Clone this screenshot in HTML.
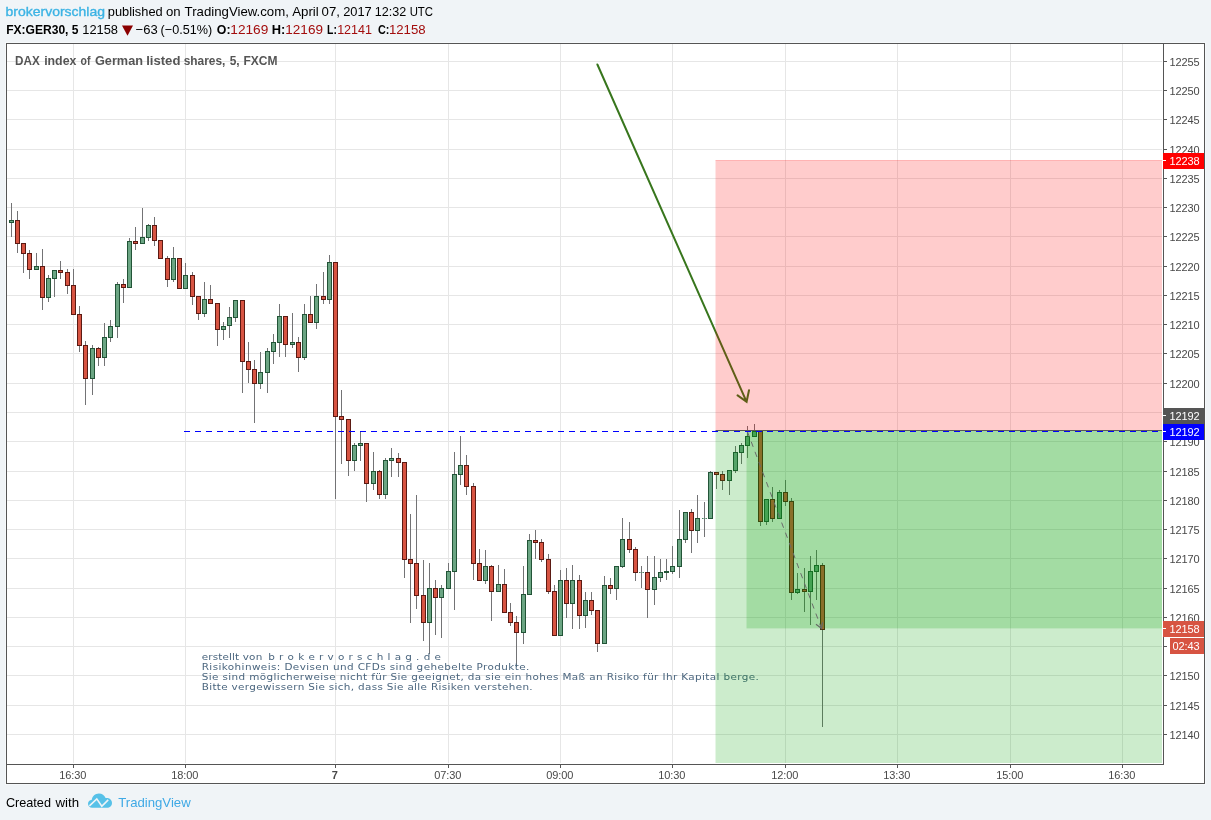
<!DOCTYPE html>
<html lang="de"><head><meta charset="utf-8"><title>DAX index of German listed shares - TradingView</title>
<style>html,body{margin:0;padding:0;background:#F0F4F7;}body{width:1211px;height:820px;overflow:hidden;position:relative;font-family:"Liberation Sans",sans-serif;}</style>
</head><body>
<svg width="1211" height="820" viewBox="0 0 1211 820" style="position:absolute;left:0;top:0">
<rect x="0" y="0" width="1211" height="820" fill="#F0F4F7"/>
<g shape-rendering="crispEdges">
<rect x="5" y="42" width="1201" height="743" fill="#F6F9FB"/>
<rect x="6" y="43" width="1199" height="741" fill="#555555"/>
<rect x="7" y="44" width="1197" height="739" fill="#ffffff"/>
<rect x="7" y="734" width="1155" height="1" fill="#E6E6E6"/>
<rect x="7" y="705" width="1155" height="1" fill="#E6E6E6"/>
<rect x="7" y="675" width="1155" height="1" fill="#E6E6E6"/>
<rect x="7" y="646" width="1155" height="1" fill="#E6E6E6"/>
<rect x="7" y="617" width="1155" height="1" fill="#E6E6E6"/>
<rect x="7" y="588" width="1155" height="1" fill="#E6E6E6"/>
<rect x="7" y="558" width="1155" height="1" fill="#E6E6E6"/>
<rect x="7" y="529" width="1155" height="1" fill="#E6E6E6"/>
<rect x="7" y="500" width="1155" height="1" fill="#E6E6E6"/>
<rect x="7" y="471" width="1155" height="1" fill="#E6E6E6"/>
<rect x="7" y="441" width="1155" height="1" fill="#E6E6E6"/>
<rect x="7" y="412" width="1155" height="1" fill="#E6E6E6"/>
<rect x="7" y="383" width="1155" height="1" fill="#E6E6E6"/>
<rect x="7" y="353" width="1155" height="1" fill="#E6E6E6"/>
<rect x="7" y="324" width="1155" height="1" fill="#E6E6E6"/>
<rect x="7" y="295" width="1155" height="1" fill="#E6E6E6"/>
<rect x="7" y="266" width="1155" height="1" fill="#E6E6E6"/>
<rect x="7" y="236" width="1155" height="1" fill="#E6E6E6"/>
<rect x="7" y="207" width="1155" height="1" fill="#E6E6E6"/>
<rect x="7" y="178" width="1155" height="1" fill="#E6E6E6"/>
<rect x="7" y="149" width="1155" height="1" fill="#E6E6E6"/>
<rect x="7" y="119" width="1155" height="1" fill="#E6E6E6"/>
<rect x="7" y="90" width="1155" height="1" fill="#E6E6E6"/>
<rect x="7" y="61" width="1155" height="1" fill="#E6E6E6"/>
<rect x="73" y="44" width="1" height="719" fill="#E6E6E6"/>
<rect x="185" y="44" width="1" height="719" fill="#E6E6E6"/>
<rect x="335" y="44" width="1" height="719" fill="#E6E6E6"/>
<rect x="448" y="44" width="1" height="719" fill="#E6E6E6"/>
<rect x="560" y="44" width="1" height="719" fill="#E6E6E6"/>
<rect x="672" y="44" width="1" height="719" fill="#E6E6E6"/>
<rect x="785" y="44" width="1" height="719" fill="#E6E6E6"/>
<rect x="897" y="44" width="1" height="719" fill="#E6E6E6"/>
<rect x="1010" y="44" width="1" height="719" fill="#E6E6E6"/>
<rect x="1122" y="44" width="1" height="719" fill="#E6E6E6"/>
</g>
<text y="65" font-family="Liberation Sans, sans-serif" font-size="13" font-weight="bold" fill="#555555"><tspan x="15.11" textLength="24.69" lengthAdjust="spacingAndGlyphs">DAX</tspan> <tspan x="44.14" textLength="32.29" lengthAdjust="spacingAndGlyphs">index</tspan> <tspan x="80.50" textLength="9.89" lengthAdjust="spacingAndGlyphs">of</tspan> <tspan x="95.00" textLength="47.98" lengthAdjust="spacingAndGlyphs">German</tspan> <tspan x="146.18" textLength="34.27" lengthAdjust="spacingAndGlyphs">listed</tspan> <tspan x="183.74" textLength="41.64" lengthAdjust="spacingAndGlyphs">shares,</tspan> <tspan x="229.68" textLength="9.92" lengthAdjust="spacingAndGlyphs">5,</tspan> <tspan x="243.40" textLength="34.04" lengthAdjust="spacingAndGlyphs">FXCM</tspan></text>
<g shape-rendering="crispEdges">
<rect x="11" y="203" width="1" height="34" fill="#737375"/>
<rect x="9" y="220" width="5" height="3" fill="#225437"/>
<rect x="10" y="221" width="3" height="1" fill="#6BA583"/>
<rect x="17" y="211" width="1" height="42" fill="#737375"/>
<rect x="15" y="220" width="5" height="24" fill="#5B1A13"/>
<rect x="16" y="221" width="3" height="22" fill="#D75442"/>
<rect x="23" y="243" width="1" height="30" fill="#737375"/>
<rect x="21" y="243" width="5" height="11" fill="#5B1A13"/>
<rect x="22" y="244" width="3" height="9" fill="#D75442"/>
<rect x="29" y="250" width="1" height="29" fill="#737375"/>
<rect x="27" y="253" width="5" height="17" fill="#5B1A13"/>
<rect x="28" y="254" width="3" height="15" fill="#D75442"/>
<rect x="36" y="253" width="1" height="17" fill="#737375"/>
<rect x="34" y="266" width="5" height="4" fill="#225437"/>
<rect x="35" y="267" width="3" height="2" fill="#6BA583"/>
<rect x="42" y="249" width="1" height="61" fill="#737375"/>
<rect x="40" y="266" width="5" height="32" fill="#5B1A13"/>
<rect x="41" y="267" width="3" height="30" fill="#D75442"/>
<rect x="48" y="275" width="1" height="27" fill="#737375"/>
<rect x="46" y="278" width="5" height="20" fill="#225437"/>
<rect x="47" y="279" width="3" height="18" fill="#6BA583"/>
<rect x="54" y="270" width="1" height="27" fill="#737375"/>
<rect x="52" y="270" width="5" height="9" fill="#225437"/>
<rect x="53" y="271" width="3" height="7" fill="#6BA583"/>
<rect x="60" y="261" width="1" height="18" fill="#737375"/>
<rect x="58" y="270" width="5" height="3" fill="#5B1A13"/>
<rect x="59" y="271" width="3" height="1" fill="#D75442"/>
<rect x="67" y="269" width="1" height="25" fill="#737375"/>
<rect x="65" y="272" width="5" height="14" fill="#5B1A13"/>
<rect x="66" y="273" width="3" height="12" fill="#D75442"/>
<rect x="73" y="269" width="1" height="46" fill="#737375"/>
<rect x="71" y="285" width="5" height="30" fill="#5B1A13"/>
<rect x="72" y="286" width="3" height="28" fill="#D75442"/>
<rect x="79" y="306" width="1" height="46" fill="#737375"/>
<rect x="77" y="314" width="5" height="32" fill="#5B1A13"/>
<rect x="78" y="315" width="3" height="30" fill="#D75442"/>
<rect x="85" y="341" width="1" height="64" fill="#737375"/>
<rect x="83" y="345" width="5" height="34" fill="#5B1A13"/>
<rect x="84" y="346" width="3" height="32" fill="#D75442"/>
<rect x="92" y="345" width="1" height="50" fill="#737375"/>
<rect x="90" y="348" width="5" height="31" fill="#225437"/>
<rect x="91" y="349" width="3" height="29" fill="#6BA583"/>
<rect x="98" y="347" width="1" height="19" fill="#737375"/>
<rect x="96" y="348" width="5" height="10" fill="#5B1A13"/>
<rect x="97" y="349" width="3" height="8" fill="#D75442"/>
<rect x="104" y="323" width="1" height="43" fill="#737375"/>
<rect x="102" y="337" width="5" height="21" fill="#225437"/>
<rect x="103" y="338" width="3" height="19" fill="#6BA583"/>
<rect x="110" y="320" width="1" height="22" fill="#737375"/>
<rect x="108" y="326" width="5" height="12" fill="#225437"/>
<rect x="109" y="327" width="3" height="10" fill="#6BA583"/>
<rect x="117" y="282" width="1" height="56" fill="#737375"/>
<rect x="115" y="284" width="5" height="43" fill="#225437"/>
<rect x="116" y="285" width="3" height="41" fill="#6BA583"/>
<rect x="123" y="279" width="1" height="24" fill="#737375"/>
<rect x="121" y="284" width="5" height="4" fill="#5B1A13"/>
<rect x="122" y="285" width="3" height="2" fill="#D75442"/>
<rect x="129" y="238" width="1" height="50" fill="#737375"/>
<rect x="127" y="241" width="5" height="47" fill="#225437"/>
<rect x="128" y="242" width="3" height="45" fill="#6BA583"/>
<rect x="135" y="227" width="1" height="23" fill="#737375"/>
<rect x="133" y="241" width="5" height="3" fill="#5B1A13"/>
<rect x="134" y="242" width="3" height="1" fill="#D75442"/>
<rect x="142" y="208" width="1" height="36" fill="#737375"/>
<rect x="140" y="237" width="5" height="7" fill="#225437"/>
<rect x="141" y="238" width="3" height="5" fill="#6BA583"/>
<rect x="148" y="224" width="1" height="17" fill="#737375"/>
<rect x="146" y="225" width="5" height="13" fill="#225437"/>
<rect x="147" y="226" width="3" height="11" fill="#6BA583"/>
<rect x="154" y="217" width="1" height="29" fill="#737375"/>
<rect x="152" y="225" width="5" height="16" fill="#5B1A13"/>
<rect x="153" y="226" width="3" height="14" fill="#D75442"/>
<rect x="160" y="240" width="1" height="19" fill="#737375"/>
<rect x="158" y="240" width="5" height="19" fill="#5B1A13"/>
<rect x="159" y="241" width="3" height="17" fill="#D75442"/>
<rect x="167" y="256" width="1" height="31" fill="#737375"/>
<rect x="165" y="258" width="5" height="22" fill="#5B1A13"/>
<rect x="166" y="259" width="3" height="20" fill="#D75442"/>
<rect x="173" y="247" width="1" height="35" fill="#737375"/>
<rect x="171" y="258" width="5" height="22" fill="#225437"/>
<rect x="172" y="259" width="3" height="20" fill="#6BA583"/>
<rect x="179" y="258" width="1" height="31" fill="#737375"/>
<rect x="177" y="258" width="5" height="31" fill="#5B1A13"/>
<rect x="178" y="259" width="3" height="29" fill="#D75442"/>
<rect x="185" y="263" width="1" height="26" fill="#737375"/>
<rect x="183" y="275" width="5" height="14" fill="#225437"/>
<rect x="184" y="276" width="3" height="12" fill="#6BA583"/>
<rect x="192" y="272" width="1" height="33" fill="#737375"/>
<rect x="190" y="275" width="5" height="22" fill="#5B1A13"/>
<rect x="191" y="276" width="3" height="20" fill="#D75442"/>
<rect x="198" y="296" width="1" height="24" fill="#737375"/>
<rect x="196" y="296" width="5" height="18" fill="#5B1A13"/>
<rect x="197" y="297" width="3" height="16" fill="#D75442"/>
<rect x="204" y="282" width="1" height="35" fill="#737375"/>
<rect x="202" y="299" width="5" height="15" fill="#225437"/>
<rect x="203" y="300" width="3" height="13" fill="#6BA583"/>
<rect x="210" y="285" width="1" height="19" fill="#737375"/>
<rect x="208" y="299" width="5" height="5" fill="#5B1A13"/>
<rect x="209" y="300" width="3" height="3" fill="#D75442"/>
<rect x="217" y="303" width="1" height="43" fill="#737375"/>
<rect x="215" y="303" width="5" height="27" fill="#5B1A13"/>
<rect x="216" y="304" width="3" height="25" fill="#D75442"/>
<rect x="223" y="322" width="1" height="18" fill="#737375"/>
<rect x="221" y="326" width="5" height="4" fill="#225437"/>
<rect x="222" y="327" width="3" height="2" fill="#6BA583"/>
<rect x="229" y="307" width="1" height="31" fill="#737375"/>
<rect x="227" y="317" width="5" height="9" fill="#225437"/>
<rect x="228" y="318" width="3" height="7" fill="#6BA583"/>
<rect x="235" y="300" width="1" height="22" fill="#737375"/>
<rect x="233" y="300" width="5" height="18" fill="#225437"/>
<rect x="234" y="301" width="3" height="16" fill="#6BA583"/>
<rect x="242" y="300" width="1" height="93" fill="#737375"/>
<rect x="240" y="300" width="5" height="62" fill="#5B1A13"/>
<rect x="241" y="301" width="3" height="60" fill="#D75442"/>
<rect x="248" y="342" width="1" height="41" fill="#737375"/>
<rect x="246" y="361" width="5" height="9" fill="#5B1A13"/>
<rect x="247" y="362" width="3" height="7" fill="#D75442"/>
<rect x="254" y="360" width="1" height="63" fill="#737375"/>
<rect x="252" y="369" width="5" height="15" fill="#5B1A13"/>
<rect x="253" y="370" width="3" height="13" fill="#D75442"/>
<rect x="260" y="352" width="1" height="37" fill="#737375"/>
<rect x="258" y="372" width="5" height="12" fill="#225437"/>
<rect x="259" y="373" width="3" height="10" fill="#6BA583"/>
<rect x="267" y="348" width="1" height="45" fill="#737375"/>
<rect x="265" y="351" width="5" height="22" fill="#225437"/>
<rect x="266" y="352" width="3" height="20" fill="#6BA583"/>
<rect x="273" y="334" width="1" height="30" fill="#737375"/>
<rect x="271" y="342" width="5" height="10" fill="#225437"/>
<rect x="272" y="343" width="3" height="8" fill="#6BA583"/>
<rect x="279" y="304" width="1" height="53" fill="#737375"/>
<rect x="277" y="316" width="5" height="27" fill="#225437"/>
<rect x="278" y="317" width="3" height="25" fill="#6BA583"/>
<rect x="285" y="316" width="1" height="41" fill="#737375"/>
<rect x="283" y="316" width="5" height="29" fill="#5B1A13"/>
<rect x="284" y="317" width="3" height="27" fill="#D75442"/>
<rect x="292" y="313" width="1" height="35" fill="#737375"/>
<rect x="290" y="342" width="5" height="3" fill="#225437"/>
<rect x="291" y="343" width="3" height="1" fill="#6BA583"/>
<rect x="298" y="337" width="1" height="35" fill="#737375"/>
<rect x="296" y="342" width="5" height="16" fill="#5B1A13"/>
<rect x="297" y="343" width="3" height="14" fill="#D75442"/>
<rect x="304" y="304" width="1" height="56" fill="#737375"/>
<rect x="302" y="314" width="5" height="44" fill="#225437"/>
<rect x="303" y="315" width="3" height="42" fill="#6BA583"/>
<rect x="310" y="296" width="1" height="27" fill="#737375"/>
<rect x="308" y="314" width="5" height="9" fill="#5B1A13"/>
<rect x="309" y="315" width="3" height="7" fill="#D75442"/>
<rect x="316" y="284" width="1" height="45" fill="#737375"/>
<rect x="314" y="296" width="5" height="27" fill="#225437"/>
<rect x="315" y="297" width="3" height="25" fill="#6BA583"/>
<rect x="323" y="272" width="1" height="32" fill="#737375"/>
<rect x="321" y="296" width="5" height="4" fill="#5B1A13"/>
<rect x="322" y="297" width="3" height="2" fill="#D75442"/>
<rect x="329" y="255" width="1" height="49" fill="#737375"/>
<rect x="327" y="262" width="5" height="38" fill="#225437"/>
<rect x="328" y="263" width="3" height="36" fill="#6BA583"/>
<rect x="335" y="262" width="1" height="237" fill="#737375"/>
<rect x="333" y="262" width="5" height="155" fill="#5B1A13"/>
<rect x="334" y="263" width="3" height="153" fill="#D75442"/>
<rect x="341" y="390" width="1" height="74" fill="#737375"/>
<rect x="339" y="416" width="5" height="4" fill="#5B1A13"/>
<rect x="340" y="417" width="3" height="2" fill="#D75442"/>
<rect x="348" y="419" width="1" height="57" fill="#737375"/>
<rect x="346" y="419" width="5" height="42" fill="#5B1A13"/>
<rect x="347" y="420" width="3" height="40" fill="#D75442"/>
<rect x="354" y="443" width="1" height="28" fill="#737375"/>
<rect x="352" y="445" width="5" height="16" fill="#225437"/>
<rect x="353" y="446" width="3" height="14" fill="#6BA583"/>
<rect x="360" y="432" width="1" height="29" fill="#737375"/>
<rect x="358" y="443" width="5" height="3" fill="#225437"/>
<rect x="359" y="444" width="3" height="1" fill="#6BA583"/>
<rect x="366" y="443" width="1" height="59" fill="#737375"/>
<rect x="364" y="443" width="5" height="41" fill="#5B1A13"/>
<rect x="365" y="444" width="3" height="39" fill="#D75442"/>
<rect x="373" y="452" width="1" height="38" fill="#737375"/>
<rect x="371" y="471" width="5" height="13" fill="#225437"/>
<rect x="372" y="472" width="3" height="11" fill="#6BA583"/>
<rect x="379" y="470" width="1" height="29" fill="#737375"/>
<rect x="377" y="471" width="5" height="24" fill="#5B1A13"/>
<rect x="378" y="472" width="3" height="22" fill="#D75442"/>
<rect x="385" y="458" width="1" height="41" fill="#737375"/>
<rect x="383" y="460" width="5" height="35" fill="#225437"/>
<rect x="384" y="461" width="3" height="33" fill="#6BA583"/>
<rect x="391" y="448" width="1" height="29" fill="#737375"/>
<rect x="389" y="458" width="5" height="3" fill="#225437"/>
<rect x="390" y="459" width="3" height="1" fill="#6BA583"/>
<rect x="398" y="453" width="1" height="24" fill="#737375"/>
<rect x="396" y="458" width="5" height="5" fill="#5B1A13"/>
<rect x="397" y="459" width="3" height="3" fill="#D75442"/>
<rect x="404" y="462" width="1" height="116" fill="#737375"/>
<rect x="402" y="462" width="5" height="98" fill="#5B1A13"/>
<rect x="403" y="463" width="3" height="96" fill="#D75442"/>
<rect x="410" y="514" width="1" height="109" fill="#737375"/>
<rect x="408" y="559" width="5" height="5" fill="#5B1A13"/>
<rect x="409" y="560" width="3" height="3" fill="#D75442"/>
<rect x="416" y="495" width="1" height="114" fill="#737375"/>
<rect x="414" y="563" width="5" height="33" fill="#5B1A13"/>
<rect x="415" y="564" width="3" height="31" fill="#D75442"/>
<rect x="423" y="560" width="1" height="81" fill="#737375"/>
<rect x="421" y="595" width="5" height="28" fill="#5B1A13"/>
<rect x="422" y="596" width="3" height="26" fill="#D75442"/>
<rect x="429" y="563" width="1" height="91" fill="#737375"/>
<rect x="427" y="588" width="5" height="35" fill="#225437"/>
<rect x="428" y="589" width="3" height="33" fill="#6BA583"/>
<rect x="435" y="580" width="1" height="55" fill="#737375"/>
<rect x="433" y="588" width="5" height="10" fill="#5B1A13"/>
<rect x="434" y="589" width="3" height="8" fill="#D75442"/>
<rect x="441" y="585" width="1" height="53" fill="#737375"/>
<rect x="439" y="588" width="5" height="10" fill="#225437"/>
<rect x="440" y="589" width="3" height="8" fill="#6BA583"/>
<rect x="448" y="563" width="1" height="26" fill="#737375"/>
<rect x="446" y="571" width="5" height="18" fill="#225437"/>
<rect x="447" y="572" width="3" height="16" fill="#6BA583"/>
<rect x="454" y="452" width="1" height="158" fill="#737375"/>
<rect x="452" y="474" width="5" height="98" fill="#225437"/>
<rect x="453" y="475" width="3" height="96" fill="#6BA583"/>
<rect x="460" y="436" width="1" height="49" fill="#737375"/>
<rect x="458" y="465" width="5" height="10" fill="#225437"/>
<rect x="459" y="466" width="3" height="8" fill="#6BA583"/>
<rect x="466" y="455" width="1" height="40" fill="#737375"/>
<rect x="464" y="465" width="5" height="22" fill="#5B1A13"/>
<rect x="465" y="466" width="3" height="20" fill="#D75442"/>
<rect x="473" y="483" width="1" height="97" fill="#737375"/>
<rect x="471" y="486" width="5" height="78" fill="#5B1A13"/>
<rect x="472" y="487" width="3" height="76" fill="#D75442"/>
<rect x="479" y="549" width="1" height="32" fill="#737375"/>
<rect x="477" y="563" width="5" height="18" fill="#5B1A13"/>
<rect x="478" y="564" width="3" height="16" fill="#D75442"/>
<rect x="485" y="550" width="1" height="34" fill="#737375"/>
<rect x="483" y="566" width="5" height="15" fill="#225437"/>
<rect x="484" y="567" width="3" height="13" fill="#6BA583"/>
<rect x="491" y="565" width="1" height="56" fill="#737375"/>
<rect x="489" y="566" width="5" height="26" fill="#5B1A13"/>
<rect x="490" y="567" width="3" height="24" fill="#D75442"/>
<rect x="498" y="565" width="1" height="27" fill="#737375"/>
<rect x="496" y="584" width="5" height="8" fill="#225437"/>
<rect x="497" y="585" width="3" height="6" fill="#6BA583"/>
<rect x="504" y="569" width="1" height="44" fill="#737375"/>
<rect x="502" y="584" width="5" height="29" fill="#5B1A13"/>
<rect x="503" y="585" width="3" height="27" fill="#D75442"/>
<rect x="510" y="603" width="1" height="23" fill="#737375"/>
<rect x="508" y="612" width="5" height="11" fill="#5B1A13"/>
<rect x="509" y="613" width="3" height="9" fill="#D75442"/>
<rect x="516" y="616" width="1" height="51" fill="#737375"/>
<rect x="514" y="622" width="5" height="11" fill="#5B1A13"/>
<rect x="515" y="623" width="3" height="9" fill="#D75442"/>
<rect x="523" y="566" width="1" height="78" fill="#737375"/>
<rect x="521" y="594" width="5" height="39" fill="#225437"/>
<rect x="522" y="595" width="3" height="37" fill="#6BA583"/>
<rect x="529" y="534" width="1" height="61" fill="#737375"/>
<rect x="527" y="540" width="5" height="55" fill="#225437"/>
<rect x="528" y="541" width="3" height="53" fill="#6BA583"/>
<rect x="535" y="530" width="1" height="29" fill="#737375"/>
<rect x="533" y="540" width="5" height="3" fill="#5B1A13"/>
<rect x="534" y="541" width="3" height="1" fill="#D75442"/>
<rect x="541" y="539" width="1" height="23" fill="#737375"/>
<rect x="539" y="542" width="5" height="18" fill="#5B1A13"/>
<rect x="540" y="543" width="3" height="16" fill="#D75442"/>
<rect x="548" y="554" width="1" height="40" fill="#737375"/>
<rect x="546" y="559" width="5" height="33" fill="#5B1A13"/>
<rect x="547" y="560" width="3" height="31" fill="#D75442"/>
<rect x="554" y="585" width="1" height="51" fill="#737375"/>
<rect x="552" y="591" width="5" height="45" fill="#5B1A13"/>
<rect x="553" y="592" width="3" height="43" fill="#D75442"/>
<rect x="560" y="570" width="1" height="66" fill="#737375"/>
<rect x="558" y="580" width="5" height="56" fill="#225437"/>
<rect x="559" y="581" width="3" height="54" fill="#6BA583"/>
<rect x="566" y="568" width="1" height="50" fill="#737375"/>
<rect x="564" y="580" width="5" height="24" fill="#5B1A13"/>
<rect x="565" y="581" width="3" height="22" fill="#D75442"/>
<rect x="572" y="565" width="1" height="64" fill="#737375"/>
<rect x="570" y="580" width="5" height="24" fill="#225437"/>
<rect x="571" y="581" width="3" height="22" fill="#6BA583"/>
<rect x="579" y="575" width="1" height="54" fill="#737375"/>
<rect x="577" y="580" width="5" height="36" fill="#5B1A13"/>
<rect x="578" y="581" width="3" height="34" fill="#D75442"/>
<rect x="585" y="592" width="1" height="36" fill="#737375"/>
<rect x="583" y="600" width="5" height="16" fill="#225437"/>
<rect x="584" y="601" width="3" height="14" fill="#6BA583"/>
<rect x="591" y="592" width="1" height="23" fill="#737375"/>
<rect x="589" y="600" width="5" height="11" fill="#5B1A13"/>
<rect x="590" y="601" width="3" height="9" fill="#D75442"/>
<rect x="597" y="610" width="1" height="42" fill="#737375"/>
<rect x="595" y="610" width="5" height="34" fill="#5B1A13"/>
<rect x="596" y="611" width="3" height="32" fill="#D75442"/>
<rect x="604" y="576" width="1" height="68" fill="#737375"/>
<rect x="602" y="585" width="5" height="59" fill="#225437"/>
<rect x="603" y="586" width="3" height="57" fill="#6BA583"/>
<rect x="610" y="578" width="1" height="16" fill="#737375"/>
<rect x="608" y="585" width="5" height="4" fill="#5B1A13"/>
<rect x="609" y="586" width="3" height="2" fill="#D75442"/>
<rect x="616" y="566" width="1" height="34" fill="#737375"/>
<rect x="614" y="566" width="5" height="23" fill="#225437"/>
<rect x="615" y="567" width="3" height="21" fill="#6BA583"/>
<rect x="622" y="518" width="1" height="50" fill="#737375"/>
<rect x="620" y="539" width="5" height="28" fill="#225437"/>
<rect x="621" y="540" width="3" height="26" fill="#6BA583"/>
<rect x="629" y="522" width="1" height="31" fill="#737375"/>
<rect x="627" y="539" width="5" height="11" fill="#5B1A13"/>
<rect x="628" y="540" width="3" height="9" fill="#D75442"/>
<rect x="635" y="547" width="1" height="34" fill="#737375"/>
<rect x="633" y="549" width="5" height="24" fill="#5B1A13"/>
<rect x="634" y="550" width="3" height="22" fill="#D75442"/>
<rect x="639" y="572" width="5" height="1" fill="#4F8266"/>
<rect x="640" y="572" width="3" height="1" fill="#8FBFA4"/>
<rect x="641" y="566" width="1" height="22" fill="#737375"/>
<rect x="647" y="556" width="1" height="62" fill="#737375"/>
<rect x="645" y="572" width="5" height="18" fill="#5B1A13"/>
<rect x="646" y="573" width="3" height="16" fill="#D75442"/>
<rect x="654" y="556" width="1" height="49" fill="#737375"/>
<rect x="652" y="577" width="5" height="13" fill="#225437"/>
<rect x="653" y="578" width="3" height="11" fill="#6BA583"/>
<rect x="660" y="559" width="1" height="23" fill="#737375"/>
<rect x="658" y="572" width="5" height="6" fill="#225437"/>
<rect x="659" y="573" width="3" height="4" fill="#6BA583"/>
<rect x="666" y="559" width="1" height="21" fill="#737375"/>
<rect x="664" y="571" width="5" height="2" fill="#225437"/>
<rect x="672" y="546" width="1" height="28" fill="#737375"/>
<rect x="670" y="566" width="5" height="6" fill="#225437"/>
<rect x="671" y="567" width="3" height="4" fill="#6BA583"/>
<rect x="679" y="510" width="1" height="68" fill="#737375"/>
<rect x="677" y="539" width="5" height="28" fill="#225437"/>
<rect x="678" y="540" width="3" height="26" fill="#6BA583"/>
<rect x="685" y="512" width="1" height="31" fill="#737375"/>
<rect x="683" y="512" width="5" height="28" fill="#225437"/>
<rect x="684" y="513" width="3" height="26" fill="#6BA583"/>
<rect x="691" y="509" width="1" height="44" fill="#737375"/>
<rect x="689" y="512" width="5" height="19" fill="#5B1A13"/>
<rect x="690" y="513" width="3" height="17" fill="#D75442"/>
<rect x="697" y="495" width="1" height="48" fill="#737375"/>
<rect x="695" y="518" width="5" height="13" fill="#225437"/>
<rect x="696" y="519" width="3" height="11" fill="#6BA583"/>
<rect x="702" y="518" width="5" height="1" fill="#4F8266"/>
<rect x="703" y="518" width="3" height="1" fill="#8FBFA4"/>
<rect x="704" y="502" width="1" height="35" fill="#737375"/>
<rect x="710" y="471" width="1" height="48" fill="#737375"/>
<rect x="708" y="472" width="5" height="47" fill="#225437"/>
<rect x="709" y="473" width="3" height="45" fill="#6BA583"/>
<rect x="716" y="472" width="1" height="17" fill="#737375"/>
<rect x="714" y="472" width="5" height="3" fill="#5B1A13"/>
<rect x="715" y="473" width="3" height="1" fill="#D75442"/>
<rect x="722" y="471" width="1" height="19" fill="#737375"/>
<rect x="720" y="474" width="5" height="7" fill="#5B1A13"/>
<rect x="721" y="475" width="3" height="5" fill="#D75442"/>
<rect x="729" y="470" width="1" height="25" fill="#737375"/>
<rect x="727" y="470" width="5" height="11" fill="#225437"/>
<rect x="728" y="471" width="3" height="9" fill="#6BA583"/>
<rect x="735" y="446" width="1" height="27" fill="#737375"/>
<rect x="733" y="452" width="5" height="19" fill="#225437"/>
<rect x="734" y="453" width="3" height="17" fill="#6BA583"/>
<rect x="741" y="443" width="1" height="21" fill="#737375"/>
<rect x="739" y="445" width="5" height="8" fill="#225437"/>
<rect x="740" y="446" width="3" height="6" fill="#6BA583"/>
<rect x="747" y="426" width="1" height="32" fill="#737375"/>
<rect x="745" y="436" width="5" height="10" fill="#225437"/>
<rect x="746" y="437" width="3" height="8" fill="#6BA583"/>
<rect x="754" y="424" width="1" height="13" fill="#737375"/>
<rect x="752" y="431" width="5" height="6" fill="#225437"/>
<rect x="753" y="432" width="3" height="4" fill="#6BA583"/>
<rect x="760" y="431" width="1" height="95" fill="#737375"/>
<rect x="758" y="431" width="5" height="91" fill="#5B1A13"/>
<rect x="759" y="432" width="3" height="89" fill="#D75442"/>
<rect x="766" y="499" width="1" height="26" fill="#737375"/>
<rect x="764" y="499" width="5" height="23" fill="#225437"/>
<rect x="765" y="500" width="3" height="21" fill="#6BA583"/>
<rect x="772" y="487" width="1" height="35" fill="#737375"/>
<rect x="770" y="499" width="5" height="20" fill="#5B1A13"/>
<rect x="771" y="500" width="3" height="18" fill="#D75442"/>
<rect x="779" y="490" width="1" height="29" fill="#737375"/>
<rect x="777" y="492" width="5" height="27" fill="#225437"/>
<rect x="778" y="493" width="3" height="25" fill="#6BA583"/>
<rect x="785" y="480" width="1" height="26" fill="#737375"/>
<rect x="783" y="492" width="5" height="10" fill="#5B1A13"/>
<rect x="784" y="493" width="3" height="8" fill="#D75442"/>
<rect x="791" y="498" width="1" height="102" fill="#737375"/>
<rect x="789" y="501" width="5" height="92" fill="#5B1A13"/>
<rect x="790" y="502" width="3" height="90" fill="#D75442"/>
<rect x="797" y="573" width="1" height="21" fill="#737375"/>
<rect x="795" y="589" width="5" height="4" fill="#225437"/>
<rect x="796" y="590" width="3" height="2" fill="#6BA583"/>
<rect x="804" y="568" width="1" height="44" fill="#737375"/>
<rect x="802" y="589" width="5" height="3" fill="#5B1A13"/>
<rect x="803" y="590" width="3" height="1" fill="#D75442"/>
<rect x="810" y="556" width="1" height="69" fill="#737375"/>
<rect x="808" y="571" width="5" height="21" fill="#225437"/>
<rect x="809" y="572" width="3" height="19" fill="#6BA583"/>
<rect x="816" y="550" width="1" height="50" fill="#737375"/>
<rect x="814" y="565" width="5" height="7" fill="#225437"/>
<rect x="815" y="566" width="3" height="5" fill="#6BA583"/>
<rect x="822" y="563" width="1" height="164" fill="#737375"/>
<rect x="820" y="565" width="5" height="65" fill="#5B1A13"/>
<rect x="821" y="566" width="3" height="63" fill="#D75442"/>
</g>
<g stroke="#38761D" stroke-width="2" fill="none" stroke-linecap="round"><path d="M597.4 64.5 L746.6 401.8 M737.6 395.4 L746.6 401.8 L749 390.3"/></g>
<text transform="translate(201.7,659.9) scale(1.16,1)" y="0" font-family="DejaVu Sans, sans-serif" font-size="9" fill="#4A657E"><tspan x="0.00" textLength="52.2" lengthAdjust="spacing">erstellt von</tspan> <tspan x="57.33" textLength="148.9" lengthAdjust="spacing">b r o k e r v o r s c h l a g . d e</tspan></text>
<text transform="translate(201.7,669.9) scale(1.16,1)" y="0" font-family="DejaVu Sans, sans-serif" font-size="9" fill="#4A657E"><tspan x="0.00" textLength="282.4" lengthAdjust="spacing">Risikohinweis: Devisen und CFDs sind gehebelte Produkte.</tspan></text>
<text transform="translate(201.7,680.0) scale(1.16,1)" y="0" font-family="DejaVu Sans, sans-serif" font-size="9" fill="#4A657E"><tspan x="0.00" textLength="480.3" lengthAdjust="spacing">Sie sind möglicherweise nicht für Sie geeignet, da sie ein hohes Maß an Risiko für Ihr Kapital berge.</tspan></text>
<text transform="translate(201.7,690.0) scale(1.16,1)" y="0" font-family="DejaVu Sans, sans-serif" font-size="9" fill="#4A657E"><tspan x="0.00" textLength="285.3" lengthAdjust="spacing">Bitte vergewissern Sie sich, dass Sie alle Risiken verstehen.</tspan></text>
<g>
<rect x="715.5" y="160" width="446.5" height="270" fill="rgba(255,0,0,0.2)"/>
<rect x="715.5" y="160" width="446.5" height="1" fill="rgba(255,0,0,0.12)"/>
<rect x="715.5" y="431" width="446.5" height="332" fill="rgba(0,160,0,0.2)"/>
<rect x="746.5" y="431" width="415.5" height="197.4" fill="rgba(0,160,0,0.2)"/>
<rect x="715.5" y="430" width="446.5" height="1" fill="#585858"/>
</g>
<path d="M747.4 431.6 L821.5 628.5" stroke="#6a6a6a" stroke-width="1" stroke-dasharray="5.5 5.3" fill="none"/>
<path d="M816 624.3 L821.5 628.5 L822.6 622.3" stroke="#666666" stroke-width="1.1" fill="none"/>
<g shape-rendering="crispEdges">
<rect x="184" y="431" width="6" height="1" fill="#0000FF"/>
<rect x="195" y="431" width="6" height="1" fill="#0000FF"/>
<rect x="206" y="431" width="6" height="1" fill="#0000FF"/>
<rect x="217" y="431" width="6" height="1" fill="#0000FF"/>
<rect x="228" y="431" width="6" height="1" fill="#0000FF"/>
<rect x="239" y="431" width="6" height="1" fill="#0000FF"/>
<rect x="250" y="431" width="6" height="1" fill="#0000FF"/>
<rect x="261" y="431" width="6" height="1" fill="#0000FF"/>
<rect x="272" y="431" width="6" height="1" fill="#0000FF"/>
<rect x="283" y="431" width="6" height="1" fill="#0000FF"/>
<rect x="294" y="431" width="6" height="1" fill="#0000FF"/>
<rect x="305" y="431" width="6" height="1" fill="#0000FF"/>
<rect x="316" y="431" width="6" height="1" fill="#0000FF"/>
<rect x="327" y="431" width="6" height="1" fill="#0000FF"/>
<rect x="338" y="431" width="6" height="1" fill="#0000FF"/>
<rect x="349" y="431" width="6" height="1" fill="#0000FF"/>
<rect x="360" y="431" width="6" height="1" fill="#0000FF"/>
<rect x="371" y="431" width="6" height="1" fill="#0000FF"/>
<rect x="382" y="431" width="6" height="1" fill="#0000FF"/>
<rect x="393" y="431" width="6" height="1" fill="#0000FF"/>
<rect x="404" y="431" width="6" height="1" fill="#0000FF"/>
<rect x="415" y="431" width="6" height="1" fill="#0000FF"/>
<rect x="426" y="431" width="6" height="1" fill="#0000FF"/>
<rect x="437" y="431" width="6" height="1" fill="#0000FF"/>
<rect x="448" y="431" width="6" height="1" fill="#0000FF"/>
<rect x="459" y="431" width="6" height="1" fill="#0000FF"/>
<rect x="470" y="431" width="6" height="1" fill="#0000FF"/>
<rect x="481" y="431" width="6" height="1" fill="#0000FF"/>
<rect x="492" y="431" width="6" height="1" fill="#0000FF"/>
<rect x="503" y="431" width="6" height="1" fill="#0000FF"/>
<rect x="514" y="431" width="6" height="1" fill="#0000FF"/>
<rect x="525" y="431" width="6" height="1" fill="#0000FF"/>
<rect x="536" y="431" width="6" height="1" fill="#0000FF"/>
<rect x="547" y="431" width="6" height="1" fill="#0000FF"/>
<rect x="558" y="431" width="6" height="1" fill="#0000FF"/>
<rect x="569" y="431" width="6" height="1" fill="#0000FF"/>
<rect x="580" y="431" width="6" height="1" fill="#0000FF"/>
<rect x="591" y="431" width="6" height="1" fill="#0000FF"/>
<rect x="602" y="431" width="6" height="1" fill="#0000FF"/>
<rect x="613" y="431" width="6" height="1" fill="#0000FF"/>
<rect x="624" y="431" width="6" height="1" fill="#0000FF"/>
<rect x="635" y="431" width="6" height="1" fill="#0000FF"/>
<rect x="646" y="431" width="6" height="1" fill="#0000FF"/>
<rect x="657" y="431" width="6" height="1" fill="#0000FF"/>
<rect x="668" y="431" width="6" height="1" fill="#0000FF"/>
<rect x="679" y="431" width="6" height="1" fill="#0000FF"/>
<rect x="690" y="431" width="6" height="1" fill="#0000FF"/>
<rect x="701" y="431" width="6" height="1" fill="#0000FF"/>
<rect x="712" y="431" width="6" height="1" fill="#0000FF"/>
<rect x="723" y="431" width="6" height="1" fill="#0000FF"/>
<rect x="734" y="431" width="6" height="1" fill="#0000FF"/>
<rect x="745" y="431" width="6" height="1" fill="#0000FF"/>
<rect x="756" y="431" width="6" height="1" fill="#0000FF"/>
<rect x="767" y="431" width="6" height="1" fill="#0000FF"/>
<rect x="778" y="431" width="6" height="1" fill="#0000FF"/>
<rect x="789" y="431" width="6" height="1" fill="#0000FF"/>
<rect x="800" y="431" width="6" height="1" fill="#0000FF"/>
<rect x="811" y="431" width="6" height="1" fill="#0000FF"/>
<rect x="822" y="431" width="6" height="1" fill="#0000FF"/>
<rect x="833" y="431" width="6" height="1" fill="#0000FF"/>
<rect x="844" y="431" width="6" height="1" fill="#0000FF"/>
<rect x="855" y="431" width="6" height="1" fill="#0000FF"/>
<rect x="866" y="431" width="6" height="1" fill="#0000FF"/>
<rect x="877" y="431" width="6" height="1" fill="#0000FF"/>
<rect x="888" y="431" width="6" height="1" fill="#0000FF"/>
<rect x="899" y="431" width="6" height="1" fill="#0000FF"/>
<rect x="910" y="431" width="6" height="1" fill="#0000FF"/>
<rect x="921" y="431" width="6" height="1" fill="#0000FF"/>
<rect x="932" y="431" width="6" height="1" fill="#0000FF"/>
<rect x="943" y="431" width="6" height="1" fill="#0000FF"/>
<rect x="954" y="431" width="6" height="1" fill="#0000FF"/>
<rect x="965" y="431" width="6" height="1" fill="#0000FF"/>
<rect x="976" y="431" width="6" height="1" fill="#0000FF"/>
<rect x="987" y="431" width="6" height="1" fill="#0000FF"/>
<rect x="998" y="431" width="6" height="1" fill="#0000FF"/>
<rect x="1009" y="431" width="6" height="1" fill="#0000FF"/>
<rect x="1020" y="431" width="6" height="1" fill="#0000FF"/>
<rect x="1031" y="431" width="6" height="1" fill="#0000FF"/>
<rect x="1042" y="431" width="6" height="1" fill="#0000FF"/>
<rect x="1053" y="431" width="6" height="1" fill="#0000FF"/>
<rect x="1064" y="431" width="6" height="1" fill="#0000FF"/>
<rect x="1075" y="431" width="6" height="1" fill="#0000FF"/>
<rect x="1086" y="431" width="6" height="1" fill="#0000FF"/>
<rect x="1097" y="431" width="6" height="1" fill="#0000FF"/>
<rect x="1108" y="431" width="6" height="1" fill="#0000FF"/>
<rect x="1119" y="431" width="6" height="1" fill="#0000FF"/>
<rect x="1130" y="431" width="6" height="1" fill="#0000FF"/>
<rect x="1141" y="431" width="6" height="1" fill="#0000FF"/>
<rect x="1152" y="431" width="6" height="1" fill="#0000FF"/>
</g>
<g shape-rendering="crispEdges">
<rect x="1163" y="44" width="1" height="721" fill="#555555"/>
<rect x="7" y="764" width="1157" height="1" fill="#555555"/>
<rect x="1164" y="734" width="3" height="1" fill="#555555"/>
<rect x="1164" y="705" width="3" height="1" fill="#555555"/>
<rect x="1164" y="675" width="3" height="1" fill="#555555"/>
<rect x="1164" y="646" width="3" height="1" fill="#555555"/>
<rect x="1164" y="617" width="3" height="1" fill="#555555"/>
<rect x="1164" y="588" width="3" height="1" fill="#555555"/>
<rect x="1164" y="558" width="3" height="1" fill="#555555"/>
<rect x="1164" y="529" width="3" height="1" fill="#555555"/>
<rect x="1164" y="500" width="3" height="1" fill="#555555"/>
<rect x="1164" y="471" width="3" height="1" fill="#555555"/>
<rect x="1164" y="441" width="3" height="1" fill="#555555"/>
<rect x="1164" y="412" width="3" height="1" fill="#555555"/>
<rect x="1164" y="383" width="3" height="1" fill="#555555"/>
<rect x="1164" y="353" width="3" height="1" fill="#555555"/>
<rect x="1164" y="324" width="3" height="1" fill="#555555"/>
<rect x="1164" y="295" width="3" height="1" fill="#555555"/>
<rect x="1164" y="266" width="3" height="1" fill="#555555"/>
<rect x="1164" y="236" width="3" height="1" fill="#555555"/>
<rect x="1164" y="207" width="3" height="1" fill="#555555"/>
<rect x="1164" y="178" width="3" height="1" fill="#555555"/>
<rect x="1164" y="149" width="3" height="1" fill="#555555"/>
<rect x="1164" y="119" width="3" height="1" fill="#555555"/>
<rect x="1164" y="90" width="3" height="1" fill="#555555"/>
<rect x="1164" y="61" width="3" height="1" fill="#555555"/>
<rect x="73" y="765" width="1" height="3" fill="#555555"/>
<rect x="185" y="765" width="1" height="3" fill="#555555"/>
<rect x="335" y="765" width="1" height="3" fill="#555555"/>
<rect x="448" y="765" width="1" height="3" fill="#555555"/>
<rect x="560" y="765" width="1" height="3" fill="#555555"/>
<rect x="672" y="765" width="1" height="3" fill="#555555"/>
<rect x="785" y="765" width="1" height="3" fill="#555555"/>
<rect x="897" y="765" width="1" height="3" fill="#555555"/>
<rect x="1010" y="765" width="1" height="3" fill="#555555"/>
<rect x="1122" y="765" width="1" height="3" fill="#555555"/>
</g>
<text x="1169.5" y="739" font-family="Liberation Sans, sans-serif" font-size="11" letter-spacing="-0.12" fill="#484848">12140</text>
<text x="1169.5" y="710" font-family="Liberation Sans, sans-serif" font-size="11" letter-spacing="-0.12" fill="#484848">12145</text>
<text x="1169.5" y="680" font-family="Liberation Sans, sans-serif" font-size="11" letter-spacing="-0.12" fill="#484848">12150</text>
<text x="1169.5" y="651" font-family="Liberation Sans, sans-serif" font-size="11" letter-spacing="-0.12" fill="#484848">12155</text>
<text x="1169.5" y="622" font-family="Liberation Sans, sans-serif" font-size="11" letter-spacing="-0.12" fill="#484848">12160</text>
<text x="1169.5" y="593" font-family="Liberation Sans, sans-serif" font-size="11" letter-spacing="-0.12" fill="#484848">12165</text>
<text x="1169.5" y="563" font-family="Liberation Sans, sans-serif" font-size="11" letter-spacing="-0.12" fill="#484848">12170</text>
<text x="1169.5" y="534" font-family="Liberation Sans, sans-serif" font-size="11" letter-spacing="-0.12" fill="#484848">12175</text>
<text x="1169.5" y="505" font-family="Liberation Sans, sans-serif" font-size="11" letter-spacing="-0.12" fill="#484848">12180</text>
<text x="1169.5" y="476" font-family="Liberation Sans, sans-serif" font-size="11" letter-spacing="-0.12" fill="#484848">12185</text>
<text x="1169.5" y="446" font-family="Liberation Sans, sans-serif" font-size="11" letter-spacing="-0.12" fill="#484848">12190</text>
<text x="1169.5" y="417" font-family="Liberation Sans, sans-serif" font-size="11" letter-spacing="-0.12" fill="#484848">12195</text>
<text x="1169.5" y="388" font-family="Liberation Sans, sans-serif" font-size="11" letter-spacing="-0.12" fill="#484848">12200</text>
<text x="1169.5" y="358" font-family="Liberation Sans, sans-serif" font-size="11" letter-spacing="-0.12" fill="#484848">12205</text>
<text x="1169.5" y="329" font-family="Liberation Sans, sans-serif" font-size="11" letter-spacing="-0.12" fill="#484848">12210</text>
<text x="1169.5" y="300" font-family="Liberation Sans, sans-serif" font-size="11" letter-spacing="-0.12" fill="#484848">12215</text>
<text x="1169.5" y="271" font-family="Liberation Sans, sans-serif" font-size="11" letter-spacing="-0.12" fill="#484848">12220</text>
<text x="1169.5" y="241" font-family="Liberation Sans, sans-serif" font-size="11" letter-spacing="-0.12" fill="#484848">12225</text>
<text x="1169.5" y="212" font-family="Liberation Sans, sans-serif" font-size="11" letter-spacing="-0.12" fill="#484848">12230</text>
<text x="1169.5" y="183" font-family="Liberation Sans, sans-serif" font-size="11" letter-spacing="-0.12" fill="#484848">12235</text>
<text x="1169.5" y="154" font-family="Liberation Sans, sans-serif" font-size="11" letter-spacing="-0.12" fill="#484848">12240</text>
<text x="1169.5" y="124" font-family="Liberation Sans, sans-serif" font-size="11" letter-spacing="-0.12" fill="#484848">12245</text>
<text x="1169.5" y="95" font-family="Liberation Sans, sans-serif" font-size="11" letter-spacing="-0.12" fill="#484848">12250</text>
<text x="1169.5" y="66" font-family="Liberation Sans, sans-serif" font-size="11" letter-spacing="-0.12" fill="#484848">12255</text>
<rect x="1163" y="153" width="41" height="16" fill="#FF0000" shape-rendering="crispEdges"/>
<rect x="1163" y="160" width="3" height="1" fill="#ffffff" shape-rendering="crispEdges"/>
<text x="1169.5" y="165" font-family="Liberation Sans, sans-serif" font-size="11" letter-spacing="-0.12" fill="#ffffff">12238</text>
<rect x="1163" y="408" width="41" height="16" fill="#555555" shape-rendering="crispEdges"/>
<rect x="1163" y="415" width="3" height="1" fill="#ffffff" shape-rendering="crispEdges"/>
<text x="1169.5" y="420" font-family="Liberation Sans, sans-serif" font-size="11" letter-spacing="-0.12" fill="#ffffff">12192</text>
<rect x="1163" y="424" width="41" height="16" fill="#0000FF" shape-rendering="crispEdges"/>
<rect x="1163" y="431" width="3" height="1" fill="#ffffff" shape-rendering="crispEdges"/>
<text x="1169.5" y="436" font-family="Liberation Sans, sans-serif" font-size="11" letter-spacing="-0.12" fill="#ffffff">12192</text>
<rect x="1163" y="621" width="41" height="16" fill="#D75442" shape-rendering="crispEdges"/>
<rect x="1163" y="628" width="3" height="1" fill="#ffffff" shape-rendering="crispEdges"/>
<text x="1169.5" y="633" font-family="Liberation Sans, sans-serif" font-size="11" letter-spacing="-0.12" fill="#ffffff">12158</text>
<rect x="1170" y="638" width="34" height="16" fill="#D75442" shape-rendering="crispEdges"/>
<text x="1172.5" y="650" font-family="Liberation Sans, sans-serif" font-size="11" letter-spacing="-0.12" fill="#ffffff">02:43</text>
<text x="72.8" y="779" font-family="Liberation Sans, sans-serif" font-size="11" letter-spacing="-0.12" fill="#484848" text-anchor="middle">16:30</text>
<text x="184.8" y="779" font-family="Liberation Sans, sans-serif" font-size="11" letter-spacing="-0.12" fill="#484848" text-anchor="middle">18:00</text>
<text x="334.8" y="779" font-family="Liberation Sans, sans-serif" font-size="11" letter-spacing="-0.12" font-weight="bold" fill="#484848" text-anchor="middle">7</text>
<text x="447.8" y="779" font-family="Liberation Sans, sans-serif" font-size="11" letter-spacing="-0.12" fill="#484848" text-anchor="middle">07:30</text>
<text x="559.8" y="779" font-family="Liberation Sans, sans-serif" font-size="11" letter-spacing="-0.12" fill="#484848" text-anchor="middle">09:00</text>
<text x="671.8" y="779" font-family="Liberation Sans, sans-serif" font-size="11" letter-spacing="-0.12" fill="#484848" text-anchor="middle">10:30</text>
<text x="784.8" y="779" font-family="Liberation Sans, sans-serif" font-size="11" letter-spacing="-0.12" fill="#484848" text-anchor="middle">12:00</text>
<text x="896.8" y="779" font-family="Liberation Sans, sans-serif" font-size="11" letter-spacing="-0.12" fill="#484848" text-anchor="middle">13:30</text>
<text x="1009.8" y="779" font-family="Liberation Sans, sans-serif" font-size="11" letter-spacing="-0.12" fill="#484848" text-anchor="middle">15:00</text>
<text x="1121.8" y="779" font-family="Liberation Sans, sans-serif" font-size="11" letter-spacing="-0.12" fill="#484848" text-anchor="middle">16:30</text>
<text y="16" font-family="Liberation Sans, sans-serif" font-size="13" fill="#000000"><tspan x="5.57" textLength="99.4" lengthAdjust="spacingAndGlyphs" fill="#3BB3E4" stroke="#3BB3E4" stroke-width="0.35">brokervorschlag</tspan> <tspan x="107.75" textLength="54.89" lengthAdjust="spacingAndGlyphs">published</tspan> <tspan x="166.01" textLength="14.66" lengthAdjust="spacingAndGlyphs">on</tspan> <tspan x="184.60" textLength="104.28" lengthAdjust="spacingAndGlyphs">TradingView.com,</tspan> <tspan x="292.20" textLength="26.54" lengthAdjust="spacingAndGlyphs">April</tspan> <tspan x="321.60" textLength="18.35" lengthAdjust="spacingAndGlyphs">07,</tspan> <tspan x="343.13" textLength="28.65" lengthAdjust="spacingAndGlyphs">2017</tspan> <tspan x="374.85" textLength="31.49" lengthAdjust="spacingAndGlyphs">12:32</tspan> <tspan x="409.63" textLength="23.42" lengthAdjust="spacingAndGlyphs">UTC</tspan></text>
<text y="34" font-family="Liberation Sans, sans-serif" font-size="13" fill="#000000"><tspan x="6.19" textLength="72.33" lengthAdjust="spacingAndGlyphs" font-weight="bold">FX:GER30, 5</tspan></text>
<text y="34" font-family="Liberation Sans, sans-serif" font-size="13" fill="#000000"><tspan x="82.23" textLength="35.79" lengthAdjust="spacingAndGlyphs">12158</tspan></text>
<path d="M122 25.5 L133 25.5 L127.5 35.8 Z" fill="#8B0000"/>
<text y="34" font-family="Liberation Sans, sans-serif" font-size="13" fill="#000000"><tspan x="135.63" textLength="22.08" lengthAdjust="spacingAndGlyphs">−63</tspan> <tspan x="160.58" textLength="51.56" lengthAdjust="spacingAndGlyphs">(−0.51%)</tspan> <tspan x="216.80" textLength="13.74" lengthAdjust="spacingAndGlyphs" font-weight="bold">O:</tspan> <tspan x="230.30" textLength="37.99" lengthAdjust="spacingAndGlyphs" fill="#A30D0D">12169</tspan> <tspan x="271.74" textLength="13.57" lengthAdjust="spacingAndGlyphs" font-weight="bold">H:</tspan> <tspan x="285.30" textLength="37.66" lengthAdjust="spacingAndGlyphs" fill="#A30D0D">12169</tspan> <tspan x="327.10" textLength="9.84" lengthAdjust="spacingAndGlyphs" font-weight="bold">L:</tspan> <tspan x="337.15" textLength="34.84" lengthAdjust="spacingAndGlyphs" fill="#A30D0D">12141</tspan> <tspan x="378.00" textLength="11.39" lengthAdjust="spacingAndGlyphs" font-weight="bold">C:</tspan> <tspan x="388.90" textLength="36.76" lengthAdjust="spacingAndGlyphs" fill="#A30D0D">12158</tspan></text>
<text y="807" font-family="Liberation Sans, sans-serif" font-size="13" fill="#000000"><tspan x="5.93" textLength="45.01" lengthAdjust="spacingAndGlyphs">Created</tspan> <tspan x="55.50" textLength="23.58" lengthAdjust="spacingAndGlyphs">with</tspan></text>
<text y="807" font-family="Liberation Sans, sans-serif" font-size="13" fill="#3FA9E5"><tspan x="118.20" textLength="72.51" lengthAdjust="spacingAndGlyphs">TradingView</tspan></text>
<g transform="translate(88,793.4)">
<path d="M4.2 14.4 C1.6 14.4 0 12.6 0 10.4 C0 8.2 1.6 6.5 3.8 6.3 C4.2 2.8 7.2 0 10.9 0 C14 0 16.6 1.9 17.6 4.7 C18 4.6 18.5 4.5 19 4.5 C21.8 4.5 24 6.7 24 9.5 C24 12.3 21.8 14.4 19 14.4 Z" fill="#57C1E8"/>
<path d="M1.4 12.4 L8.8 5.5 L13.8 12.9 L20.2 6.5" stroke="#F0F4F7" stroke-width="1.6" fill="none" stroke-linejoin="miter"/>
</g>
</svg>
</body></html>
